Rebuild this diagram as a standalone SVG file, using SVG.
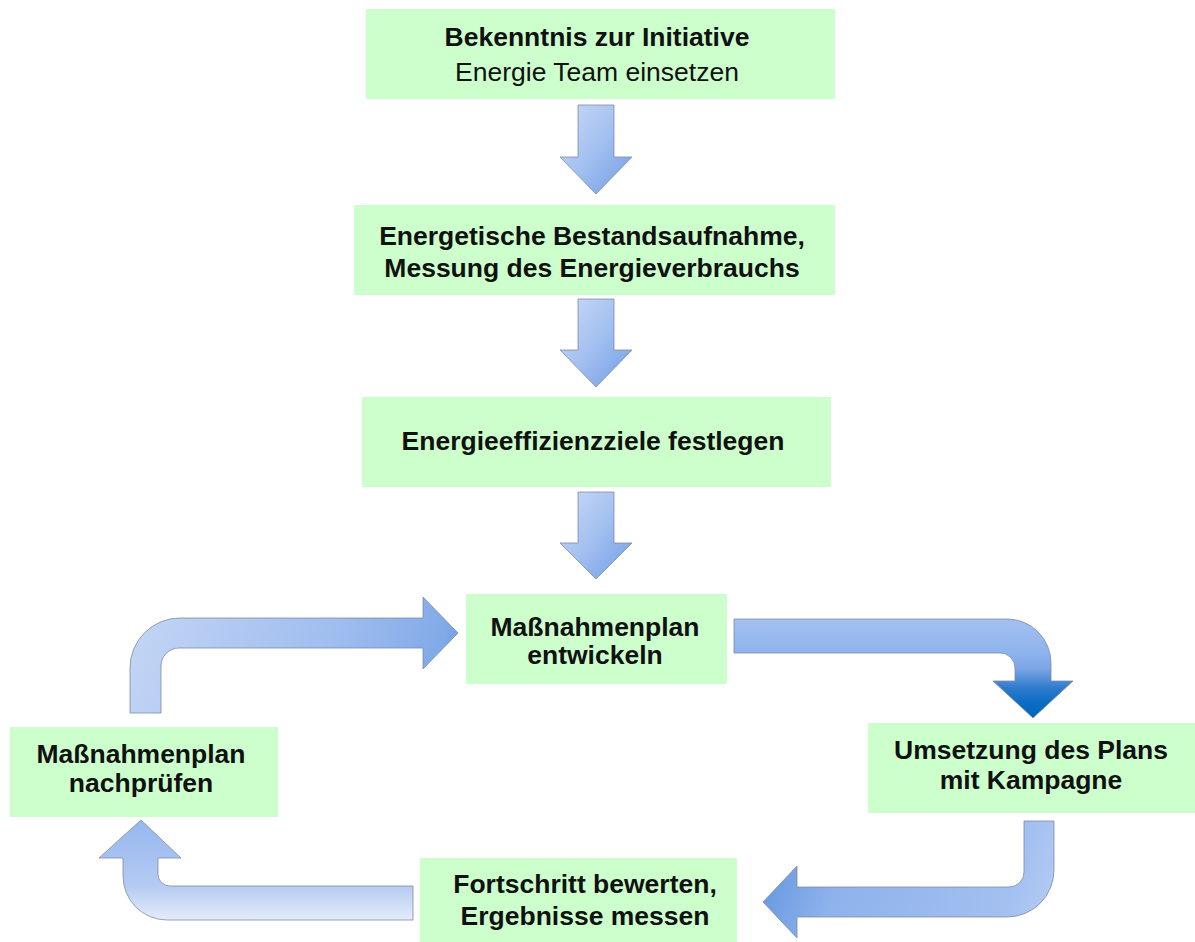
<svg xmlns="http://www.w3.org/2000/svg" width="1195" height="942" viewBox="0 0 1195 942">
<style>
.box{fill:#CCFFCC;}
.t{font-family:"Liberation Sans",Arial,sans-serif;font-size:26.5px;font-weight:bold;fill:#111;text-anchor:middle;}
.r{font-weight:normal;}
.arr{stroke:#7D8CA3;stroke-width:0.8;stroke-linejoin:miter;}
</style>
<defs>
<linearGradient id="gDown" x1="0" y1="0" x2="1" y2="1">
<stop offset="0" stop-color="#CADBF6"/>
<stop offset="0.5" stop-color="#A3C0F0"/>
<stop offset="0.78" stop-color="#86ACE9"/>
<stop offset="0.9" stop-color="#4A88DA"/>
<stop offset="1" stop-color="#2F74D0"/>
</linearGradient>
<linearGradient id="gTL" gradientUnits="userSpaceOnUse" x1="130" y1="600" x2="460" y2="700">
<stop offset="0" stop-color="#C4D6F5"/>
<stop offset="0.6" stop-color="#9FBDEF"/>
<stop offset="0.9" stop-color="#82AAE8"/>
<stop offset="1" stop-color="#5A92DE"/>
</linearGradient>
<linearGradient id="gTR" gradientUnits="userSpaceOnUse" x1="0" y1="619" x2="0" y2="718">
<stop offset="0" stop-color="#A3C0F1"/>
<stop offset="0.34" stop-color="#8FB3EC"/>
<stop offset="0.5" stop-color="#7CA6E6"/>
<stop offset="0.7" stop-color="#2E7ACC"/>
<stop offset="0.85" stop-color="#0A6CC2"/>
<stop offset="1" stop-color="#0066BB"/>
</linearGradient>
<linearGradient id="gBL" gradientUnits="userSpaceOnUse" x1="0" y1="820" x2="0" y2="920">
<stop offset="0" stop-color="#96B7EE"/>
<stop offset="0.65" stop-color="#B4CAF2"/>
<stop offset="1" stop-color="#E4ECFA"/>
</linearGradient>
<linearGradient id="gBR" gradientUnits="userSpaceOnUse" x1="763" y1="860" x2="1054" y2="960">
<stop offset="0" stop-color="#6496DF"/>
<stop offset="0.25" stop-color="#8EB2EC"/>
<stop offset="0.8" stop-color="#A3C0F0"/>
<stop offset="1" stop-color="#BCD0F4"/>
</linearGradient>
</defs>

<g id="connectors">
<polygon id="a1" class="arr" fill="url(#gDown)" points="578,105 614,105 614,157 632,157 596,194 560,157 578,157"/>
<polygon id="a2" class="arr" fill="url(#gDown)" points="578,299 614,299 614,350 632,350 596,387 560,350 578,350"/>
<polygon id="a3" class="arr" fill="url(#gDown)" points="578,492 614,492 614,543 632,543 596,579 560,543 578,543"/>
<path id="a4" class="arr" fill="url(#gTL)" d="M130,713 L130,668 A50,50 0 0 1 180,618 L423,618 L423,597 L458,633 L423,669 L423,648 L179,648 A18,18 0 0 0 161,666 L161,713 Z"/>
<path id="a5" class="arr" fill="url(#gTR)" d="M734,619 L1007,619 A44,44 0 0 1 1051,663 L1051,681 L1073,681 L1033,718 L993,681 L1015,681 L1015,668 A15,15 0 0 0 1000,653 L734,653 Z"/>
<path id="a6" class="arr" fill="url(#gBR)" d="M1024,821 L1054,821 L1054,870 A47,47 0 0 1 1007,917 L797,917 L797,938 L763,902 L797,866 L797,887 L1009,887 A15,15 0 0 0 1024,872 Z"/>
<path id="a7" class="arr" fill="url(#gBL)" d="M413,886 L413,920 L167,920 A44,44 0 0 1 123,876 L123,858 L99,858 L141,820 L181,858 L158,858 L158,874 A12,12 0 0 0 170,886 Z"/>
</g>

<g id="n1">
<rect class="box" x="366" y="9" width="469" height="90"/>
<text class="t" x="597" y="46">Bekenntnis zur Initiative</text>
<text class="t r" x="597" y="81">Energie Team einsetzen</text>
</g>
<g id="n2">
<rect class="box" x="354" y="205" width="481" height="90"/>
<text class="t" x="592" y="245">Energetische Bestandsaufnahme,</text>
<text class="t" x="592" y="277">Messung des Energieverbrauchs</text>
</g>
<g id="n3">
<rect class="box" x="362" y="397" width="469" height="90"/>
<text class="t" x="593" y="450">Energieeffizienzziele festlegen</text>
</g>
<g id="n4">
<rect class="box" x="466" y="594" width="261" height="90"/>
<text class="t" x="595" y="636">Maßnahmenplan</text>
<text class="t" x="595" y="664">entwickeln</text>
</g>
<g id="n5">
<rect class="box" x="10" y="727" width="268" height="90"/>
<text class="t" x="141" y="763">Maßnahmenplan</text>
<text class="t" x="141" y="792">nachprüfen</text>
</g>
<g id="n6">
<rect class="box" x="868" y="723" width="330" height="90"/>
<text class="t" x="1031" y="759">Umsetzung des Plans</text>
<text class="t" x="1031" y="789">mit Kampagne</text>
</g>
<g id="n7">
<rect class="box" x="420" y="858" width="317" height="90"/>
<text class="t" x="585" y="893">Fortschritt bewerten,</text>
<text class="t" x="585" y="925">Ergebnisse messen</text>
</g>
</svg>
